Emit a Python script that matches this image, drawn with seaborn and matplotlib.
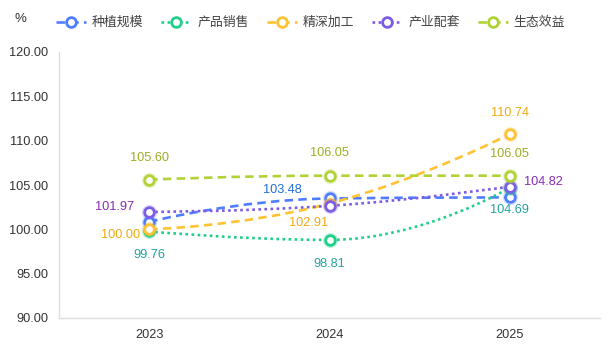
import numpy as np
import pandas as pd
import seaborn as sns
import matplotlib
matplotlib.use("Agg")
import matplotlib.pyplot as plt
from matplotlib.path import Path
from matplotlib.patches import PathPatch
from matplotlib.lines import Line2D

# ---- data ----
years = ["2023", "2024", "2025"]
series_names = ["种植规模", "产品销售", "精深加工", "产业配套", "生态效益"]
planting = [100.85, 103.48, 103.60]
sales = [99.76, 98.81, 104.69]
processing = [100.00, 102.91, 110.74]
support = [101.97, 102.65, 104.82]
ecology = [105.60, 106.05, 106.05]
y_ticks = [90, 95, 100, 105, 110, 115, 120]

values = [planting, sales, processing, support, ecology]

# ---- style ----
line_colors = ["#4f7dff", "#1fcf8a", "#ffc233", "#7c5ce6", "#b0d235"]
label_colors = ["#1f6fd6", "#22a3a0", "#eeaa10", "#8a2bb5", "#9cae22"]
dash_styles = [(0, (3.2, 2.0)), (0, (1.0, 1.3)), (0, (3.2, 2.0)), (0, (1.0, 1.3)), (0, (3.2, 2.0))]
# label placement: (series index, point index) -> (dx px, dy px (down +), ha)
label_pos = {
    (4, 0): (0, -22, "center"), (3, 0): (-15, -5, "right"), (2, 0): (-9, 6, "right"),
    (1, 0): (0, 24, "center"),
    (0, 1): (-28, -8, "right"), (2, 1): (-21, 19, "center"), (4, 1): (0, -23, "center"),
    (1, 1): (0, 24, "center"),
    (2, 2): (0, -21, "center"), (4, 2): (0, -22, "center"), (3, 2): (14, -5, "left"),
    (1, 2): (0, 22, "center"),
}

sns.set_theme(style="white")
plt.rcParams["font.family"] = ["Liberation Sans", "Noto Sans CJK SC", "DejaVu Sans"]

W, H, DPI = 614, 350, 100
fig = plt.figure(figsize=(W / DPI, H / DPI), dpi=DPI)
ax = fig.add_axes([59 / W, (H - 318) / H, (600 - 59) / W, (318 - 52) / H])

rows = []
for name, vals in zip(series_names, values):
    for i, v in enumerate(vals):
        rows.append({"series": name, "x": i, "year": years[i], "value": v})
df = pd.DataFrame(rows)

ax.set_xlim(-0.5, 2.5)
ax.set_ylim(90, 120)

# smooth lines: echarts-style bezier with constrained control points (pixel space)
sx = (600 - 59) / 3.0
sy = (318 - 52) / 30.0
smooth = 0.5


def smooth_path(vals):
    pts = np.array([[i * sx, v * sy] for i, v in enumerate(vals)])
    n = len(pts)
    verts = [pts[0]]
    codes = [Path.MOVETO]
    cp0 = pts[0].copy()
    for i in range(n - 1):
        p = pts[i]
        nxt = pts[i + 1]
        if i + 1 < n - 1:
            prev = p
            nn = pts[i + 2]
            d = nn - prev
            len_prev = np.linalg.norm(nxt - prev)
            len_next = np.linalg.norm(nn - nxt)
            ratio = len_next / (len_next + len_prev)
            c1 = nxt + d * smooth * ratio
            c1 = np.minimum(c1, np.maximum(nn, nxt))
            c1 = np.maximum(c1, np.minimum(nn, nxt))
            dd = c1 - nxt
            ncp0 = nxt - dd * len_prev / len_next
            ncp0 = np.minimum(ncp0, np.maximum(prev, nxt))
            ncp0 = np.maximum(ncp0, np.minimum(prev, nxt))
            dd = nxt - ncp0
            c1 = nxt + dd * len_next / len_prev
            verts += [cp0, ncp0, nxt]
            cp0 = c1
        else:
            verts += [cp0, nxt, nxt]
        codes += [Path.CURVE4] * 3
    return Path(np.array(verts) / np.array([sx, sy]), codes)


for k, vals in enumerate(values):
    patch = PathPatch(smooth_path(vals), facecolor="none", edgecolor=line_colors[k],
                      lw=1.9, linestyle=dash_styles[k], zorder=2 + k * 0.01)
    ax.add_patch(patch)

# markers
for k, name in enumerate(series_names):
    sub = df[df["series"] == name]
    sns.scatterplot(data=sub, x="x", y="value", ax=ax, s=120, color=line_colors[k],
                    alpha=0.25, linewidth=0, zorder=5 + k, legend=False)
    sns.scatterplot(data=sub, x="x", y="value", ax=ax, s=48, facecolor="white",
                    edgecolor=line_colors[k], linewidth=2.0, zorder=5.5 + k, legend=False)

# labels
for (k, i), (dx, dy, ha) in label_pos.items():
    v = values[k][i]
    ax.annotate(f"{v:.2f}", (i, v), xytext=(dx * 0.72, -dy * 0.72), textcoords="offset points",
                ha=ha, va="center", fontsize=9.2, color=label_colors[k], zorder=20)

ax.set_xticks(range(len(years)))
ax.set_xticklabels(years)
ax.set_yticks(y_ticks)
ax.set_yticklabels([f"{t:.2f}" for t in y_ticks])
ax.set_xlabel("")
ax.set_ylabel("")
ax.tick_params(axis="both", length=0, labelsize=9.2, colors="#333333")
ax.tick_params(axis="y", pad=8)
ax.tick_params(axis="x", pad=8)
for side in ["top", "right"]:
    ax.spines[side].set_visible(False)
for side in ["left", "bottom"]:
    ax.spines[side].set_color("#dddddd")
    ax.spines[side].set_linewidth(1.0)
ax.grid(False)

fig.text(20 / W, 1 - 19 / H, "%", fontsize=9.5, color="#333333", ha="center", va="center")

handles = [Line2D([0], [0], color=line_colors[k], lw=1.9, linestyle=dash_styles[k], marker="o",
                  markersize=7, markerfacecolor="white", markeredgecolor=line_colors[k],
                  markeredgewidth=2.0) for k in range(len(series_names))]
fig.legend(handles, series_names, loc="center left", bbox_to_anchor=(56 / W, 1 - 23 / H),
           ncol=5, frameon=False, fontsize=9.3, handlelength=2.3, handletextpad=0.47,
           columnspacing=1.41, borderpad=0, borderaxespad=0, labelcolor="#444444")

fig.savefig("out.png", dpi=DPI)
